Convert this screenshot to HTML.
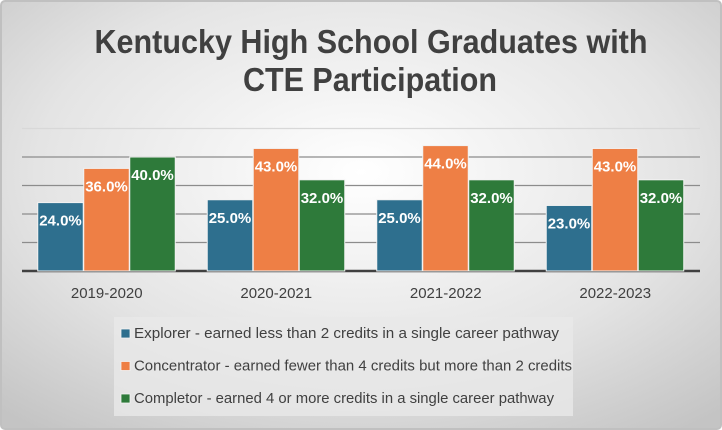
<!DOCTYPE html>
<html><head><meta charset="utf-8"><style>
html,body{margin:0;padding:0;width:722px;height:430px;overflow:hidden;background:#fff}
svg{display:block}
</style></head><body>
<svg id="chart" width="722" height="430" xmlns="http://www.w3.org/2000/svg">
<defs>
<radialGradient id="bg" cx="50%" cy="40%" r="75%">
<stop offset="0" stop-color="#ffffff"/><stop offset="0.6" stop-color="#e4e4e4"/><stop offset="1" stop-color="#c4c4c4"/>
</radialGradient>
</defs>
<rect x="1" y="1" width="720" height="428" rx="4" fill="url(#bg)" stroke="#c0c0c0" stroke-width="2"/>
<text x="371" y="53" text-anchor="middle" font-family="'Liberation Sans Narrow','Liberation Sans',sans-serif" font-weight="bold" font-size="33" fill="#404040" textLength="553" lengthAdjust="spacingAndGlyphs">Kentucky High School Graduates with</text>
<text x="370" y="91" text-anchor="middle" font-family="'Liberation Sans Narrow','Liberation Sans',sans-serif" font-weight="bold" font-size="33" fill="#404040" textLength="254" lengthAdjust="spacingAndGlyphs">CTE Participation</text>
<g id="grid"></g>
<g id="bars"></g>
<g id="labels"></g>
<g id="xlabels"></g>
<g>
<rect x="114" y="317" width="459" height="99" fill="#e8e8e8" opacity="0.8"/>
<g id="legend-items"></g>
</g>
</svg>
<script>
const categories = ["2019-2020","2020-2021","2021-2022","2022-2023"];
const explorer = [24,25,25,23];
const concentrator = [36,43,44,43];
const completor = [40,32,32,32];
const yTicks = [10,20,30,40,50];
const seriesNames = ["Explorer - earned less than 2 credits in a single career pathway","Concentrator - earned fewer than 4 credits but more than 2 credits","Completor - earned 4 or more credits in a single career pathway"];

const NS="http://www.w3.org/2000/svg";
const colors=["#2e6f8e","#ee7f45","#2e7a3a"];
const series=[explorer,concentrator,completor];
const plotL=22, plotR=700, baseY=271, pxPer=2.85;
const y=v=>baseY-v*pxPer;
const groupW=(plotR-plotL)/categories.length;
const cx=i=>plotL+groupW*(i+0.5);
const barW=45.5;
function mk(tag,attrs,parent){const e=document.createElementNS(NS,tag);for(const k in attrs)e.setAttribute(k,attrs[k]);parent.appendChild(e);return e;}
const grid=document.getElementById('grid');
yTicks.forEach(t=>{
  const l=mk('line',{x1:plotL,x2:plotR,y1:y(t),y2:y(t),stroke:t>=50?'#d8d8d8':'#8c8c8c','stroke-width':1.3},grid);
  
  
});
const ax=mk('line',{x1:plotL,x2:plotR,y1:baseY,y2:baseY,stroke:'#404040','stroke-width':2.5},grid);


const bars=document.getElementById('bars'),labels=document.getElementById('labels'),xl=document.getElementById('xlabels');
categories.forEach((c,i)=>{
  series.forEach((s,j)=>{
    const x=cx(i)+(j-1.5)*(barW+0.5);
    const r=mk('rect',{x:x,y:y(s[i]),width:barW,height:baseY-y(s[i]),fill:colors[j],stroke:'#f2f2f2','stroke-width':1},bars);
    
    
    const t=mk('text',{x:x+barW/2,y:y(s[i])+23,'text-anchor':'middle','font-family':"'Liberation Sans',sans-serif",'font-weight':'bold','font-size':15,fill:'#fff'},labels);
    t.textContent=s[i].toFixed(1)+'%';
    
    
  });
  const t=mk('text',{x:cx(i),y:298,'text-anchor':'middle','font-family':"'Liberation Sans',sans-serif",'font-size':15,fill:'#404040'},xl);
  t.textContent=c;
  
  
});
const li=document.getElementById('legend-items');
const lens=[425,438,420];
seriesNames.forEach((n,j)=>{
  const yy=333+j*32.5;
  const sq=mk('rect',{x:121,y:yy-4,width:9,height:9,fill:colors[j],stroke:'#f2f2f2','stroke-width':0.8},li);
  
  
  const t=mk('text',{x:134,y:yy+5,'font-family':"'Liberation Sans Narrow','Liberation Sans',sans-serif",'font-size':15,fill:'#404040',textLength:lens[j],lengthAdjust:'spacingAndGlyphs'},li);
  t.textContent=n;
  
  
});
</script>
</body></html>
